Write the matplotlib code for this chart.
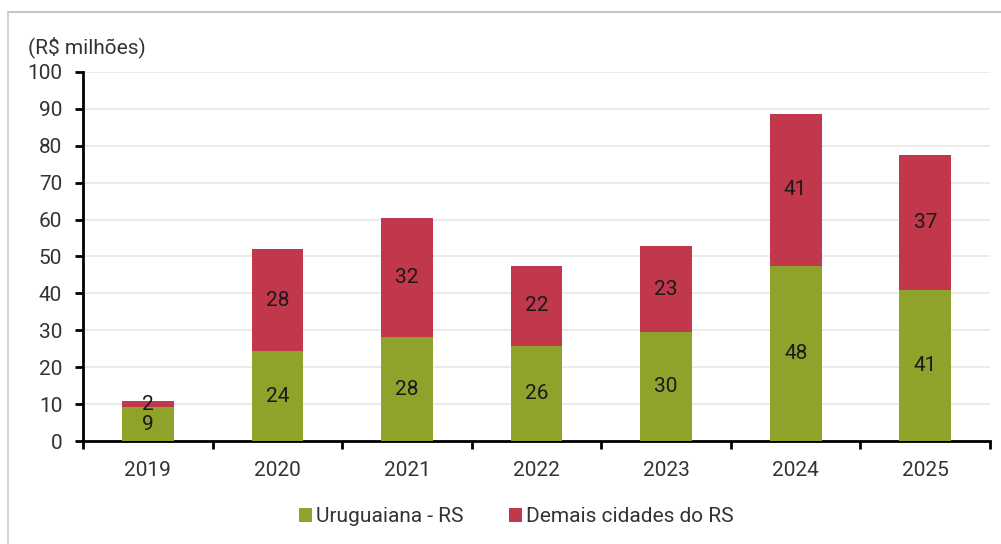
import numpy as np
import matplotlib
matplotlib.use("Agg")
import matplotlib.pyplot as plt
from matplotlib.lines import Line2D

plt.rcParams["font.family"] = ["Roboto", "DejaVu Sans"]

YEARS = ["2019", "2020", "2021", "2022", "2023", "2024", "2025"]
URUGUAIANA = [9.2, 24.3, 28.1, 25.8, 29.6, 47.5, 41.0]
DEMAIS = [1.6, 27.6, 32.4, 21.6, 23.2, 41.2, 36.6]
SERIES = ["Uruguaiana - RS", "Demais cidades do RS"]

GREEN = "#8FA229"
RED = "#C1374B"
TXT = "#333333"
FS = 15

fig = plt.figure(figsize=(10.01, 5.44), dpi=100)
ax = fig.add_axes([0.083, 0.189, 0.906, 0.679])

x = np.arange(len(YEARS))
w = 0.40
green = np.array(URUGUAIANA)
red = np.array(DEMAIS)
ax.bar(x, green, w, color=GREEN, label=SERIES[0], zorder=3)
ax.bar(x, red, w, bottom=green, color=RED, label=SERIES[1], zorder=3)

for xi, g, r in zip(x, green, red):
    ax.text(xi, g / 2, f"{g:.0f}", ha="center", va="center", fontsize=FS,
            color="#1a1a1a", zorder=4)
    ax.text(xi, g + r / 2, f"{r:.0f}", ha="center", va="center", fontsize=FS,
            color="#1a1a1a", zorder=4)

ax.set_xlim(-0.5, len(YEARS) - 0.5)
ax.set_ylim(0, 100)
ax.set_yticks(np.arange(0, 101, 10))
ax.set_xticks(x)
ax.set_xticklabels(YEARS)
ax.set_xticks(np.arange(-0.5, len(YEARS), 1), minor=True)
ax.tick_params(axis="x", which="major", length=0, pad=14, labelsize=FS, labelcolor=TXT)
ax.tick_params(axis="x", which="minor", length=6, width=2, direction="out", color="black")
ax.tick_params(axis="y", length=6, width=2, direction="out", labelsize=FS,
               labelcolor=TXT, pad=9)
ax.grid(axis="y", color="#E6E6E6", lw=1.2, zorder=0)
for s in ["top", "right"]:
    ax.spines[s].set_visible(False)
for s in ["left", "bottom"]:
    ax.spines[s].set_linewidth(2)
    ax.spines[s].set_color("black")

fig.text(0.028, 0.913, "(R$ milhões)", fontsize=FS, color=TXT, ha="left", va="center")

ax.legend(loc="center", bbox_to_anchor=(0.478, -0.205), ncol=2, frameon=False,
          fontsize=FS, handlelength=0.6, handleheight=0.6, handletextpad=0.2,
          columnspacing=2.2, labelcolor=TXT)

# outer frame (top and left edges visible)
fig.add_artist(Line2D([0.008, 1.0], [0.978, 0.978], transform=fig.transFigure,
                      color="#BBBBBB", lw=1.2))
fig.add_artist(Line2D([0.008, 0.008], [0.0, 0.978], transform=fig.transFigure,
                      color="#CCCCCC", lw=1.2))

fig.savefig("out.png", dpi=100)
